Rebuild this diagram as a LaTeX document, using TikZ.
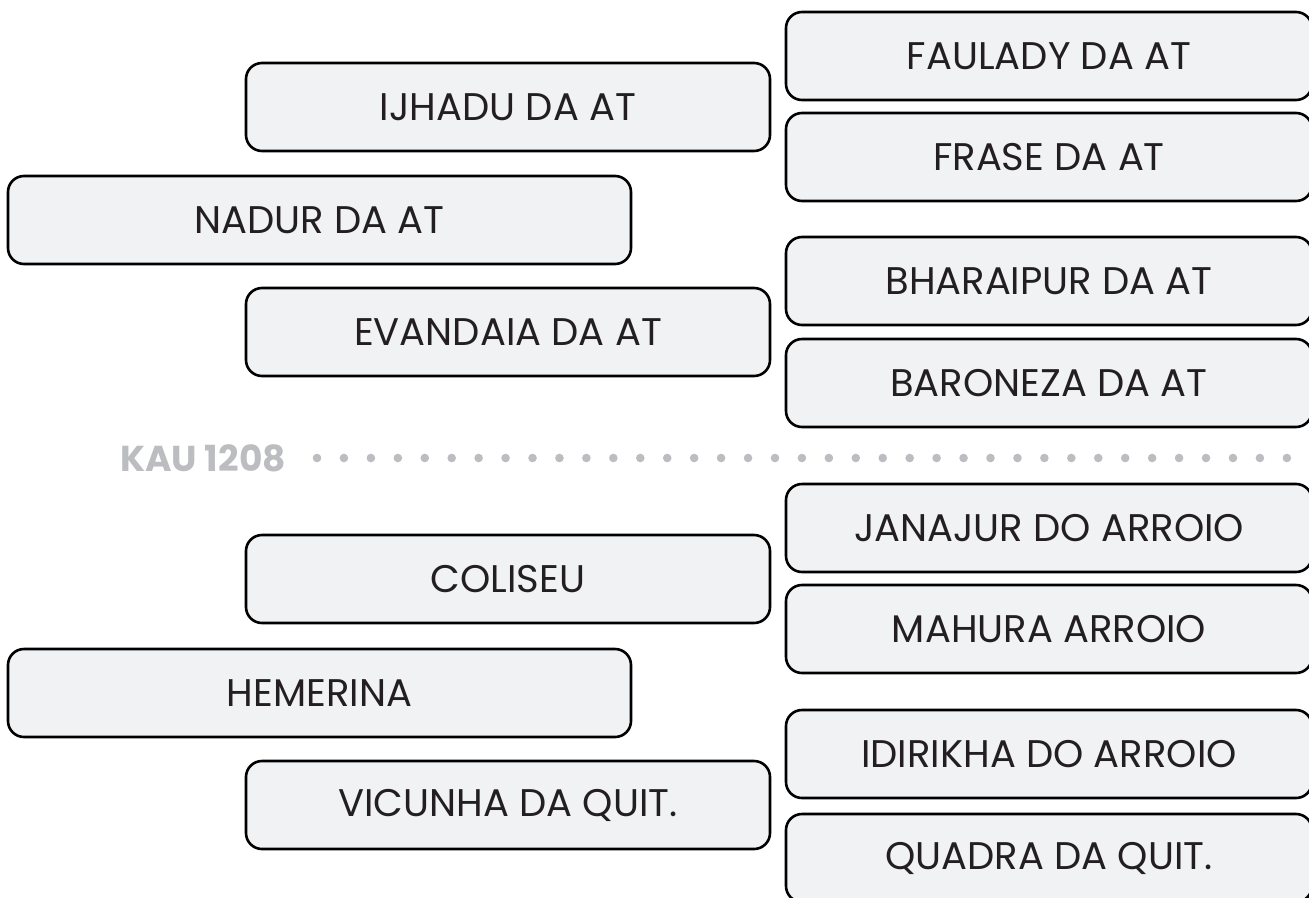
\documentclass[tikz,border=0pt]{standalone}
\usepackage{fontspec}
\setmainfont{Poppins}
\definecolor{boxfill}{HTML}{F1F2F4}
\definecolor{boxtext}{HTML}{231F20}
\definecolor{dotgrey}{HTML}{BCBDC0}

\tikzstyle{stopbox} = [draw=black,line width=2.6pt,fill=boxfill,rounded corners=16pt,minimum height=88pt,inner sep=0pt,text=boxtext,font=\fontsize{38.5}{44}\selectfont]
\tikzstyle{linelabel} = [anchor=east,inner sep=0pt,text=dotgrey,font=\fontsize{36}{40}\selectfont\bfseries]
\tikzstyle{sepdot} = [fill=dotgrey]

\begin{document}
\begin{tikzpicture}[x=1pt,y=-1pt]
      \useasboundingbox (0,0) rectangle (1309,897);
      \clip (0,0) rectangle (1309,897);
      %boxes
      \foreach \nodename/\x/\y/\w/\name in {
        faulady/1049/56/526/FAULADY DA AT,
        frase/1049/157/526/FRASE DA AT,
        ijhadu/508/107/524/IJHADU DA AT,
        nadur/319.5/220/623/NADUR DA AT,
        bharaipur/1049/281/526/BHARAIPUR DA AT,
        evandaia/508/332/524/EVANDAIA DA AT,
        baroneza/1049/383/526/BARONEZA DA AT,
        janajur/1049/528/526/JANAJUR DO ARROIO,
        coliseu/508/579/524/COLISEU,
        mahura/1049/629/526/MAHURA ARROIO,
        hemerina/319.5/693/623/HEMERINA,
        idirikha/1049/754/526/IDIRIKHA DO ARROIO,
        vicunha/508/805/524/VICUNHA DA QUIT.,
        quadra/1049/858/526/QUADRA DA QUIT.}
      {
        \node[stopbox, minimum width=\w pt] (\nodename) at (\x,\y) {\name};
      };
      %divider
      \node[linelabel] (kau) at (286,458) {KAU 1208};
      \foreach \i in {0,...,36}
      {
        \fill[sepdot] ({317+26.94*\i},458) circle (4.3pt);
      };
\end{tikzpicture}
\end{document}
